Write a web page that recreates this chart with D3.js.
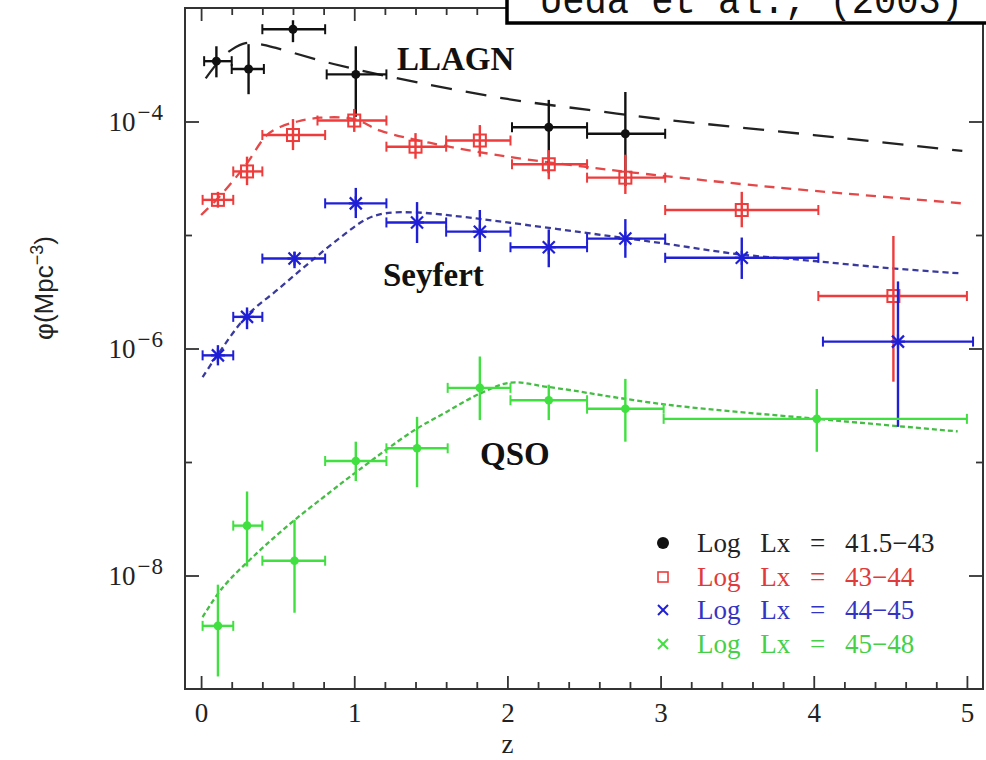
<!DOCTYPE html>
<html>
<head>
<meta charset="utf-8">
<script src="https://cdn.jsdelivr.net/npm/d3@7"></script>
<style>
  body { margin: 0; background: #fff; }
  svg { display: block; }
</style>
</head>
<body>
<svg id="chart" width="986" height="760"></svg>
<script>
// axis ticks
const zMajor = [0, 1, 2, 3, 4, 5];
const zMinor = [0.2, 0.4, 0.6, 0.8, 1.2, 1.4, 1.6, 1.8, 2.2, 2.4, 2.6, 2.8,
                3.2, 3.4, 3.6, 3.8, 4.2, 4.4, 4.6, 4.8];
const phiMajor = [1e-4, 1e-6, 1e-8];
const phiMinor = [1e-5, 1e-7];
const phiExp = ["\u22124", "\u22126", "\u22128"];
const zLabels = ["0", "1", "2", "3", "4", "5"];

// points: [z, zLow, zHigh, phi, phiTop, phiBottom]
const llagnPts = [
  [0.10, 0.02, 0.20, 3.4e-4, 4.6e-4, 2.45e-4],
  [0.31, 0.20, 0.41, 2.9e-4, 4.8e-4, 1.74e-4],
  [0.60, 0.40, 0.81, 6.5e-4, 7.8e-4, 5.0e-4],
  [1.01, 0.82, 1.21, 2.6e-4, 4.6e-4, 1.1e-4],
  [2.27, 2.03, 2.52, 8.9e-5, 1.55e-4, 3.5e-5],
  [2.77, 2.52, 3.03, 7.8e-5, 1.82e-4, 2.7e-5]
];
const sey43Pts = [
  [0.11, 0.01, 0.21, 2.04e-5, 2.4e-5, 1.74e-5],
  [0.30, 0.21, 0.40, 3.63e-5, 4.9e-5, 2.75e-5],
  [0.60, 0.40, 0.81, 7.6e-5, 1.05e-4, 5.6e-5],
  [1.00, 0.76, 1.21, 1.02e-4, 1.29e-4, 8.1e-5],
  [1.40, 1.21, 1.60, 6.0e-5, 7.9e-5, 4.7e-5],
  [1.82, 1.60, 2.02, 6.8e-5, 9.3e-5, 4.9e-5],
  [2.27, 2.03, 2.52, 4.2e-5, 5.6e-5, 3.1e-5],
  [2.77, 2.52, 3.03, 3.2e-5, 5.1e-5, 2.3e-5],
  [3.53, 3.03, 4.03, 1.66e-5, 2.4e-5, 1.17e-5],
  [4.52, 4.03, 5.00, 2.9e-6, 9.8e-6, 5.1e-7]
];
const sey44Pts = [
  [0.11, 0.01, 0.21, 8.7e-7, 1.07e-6, 7.1e-7],
  [0.30, 0.21, 0.40, 1.9e-6, 2.3e-6, 1.48e-6],
  [0.61, 0.40, 0.81, 6.2e-6, 7.1e-6, 5.1e-6],
  [1.01, 0.81, 1.21, 1.9e-5, 2.6e-5, 1.41e-5],
  [1.41, 1.21, 1.60, 1.29e-5, 1.95e-5, 8.5e-6],
  [1.82, 1.60, 2.02, 1.07e-5, 1.66e-5, 7.1e-6],
  [2.27, 2.02, 2.52, 7.8e-6, 1.12e-5, 5.2e-6],
  [2.77, 2.52, 3.03, 9.3e-6, 1.38e-5, 6.3e-6],
  [3.53, 3.03, 4.03, 6.3e-6, 9.5e-6, 4.1e-6],
  [4.55, 4.06, 5.04, 1.15e-6, 3.9e-6, 2.04e-7]
];
const qsoPts = [
  [0.11, 0.01, 0.21, 3.6e-9, 8.3e-9, 1.29e-9],
  [0.30, 0.21, 0.40, 2.75e-8, 5.5e-8, 1.2e-8],
  [0.61, 0.40, 0.81, 1.35e-8, 3.1e-8, 4.7e-9],
  [1.01, 0.81, 1.21, 1.02e-7, 1.51e-7, 6.8e-8],
  [1.41, 1.21, 1.61, 1.32e-7, 2.5e-7, 6.0e-8],
  [1.82, 1.61, 2.02, 4.5e-7, 8.5e-7, 2.34e-7],
  [2.27, 2.02, 2.52, 3.5e-7, 4.8e-7, 2.34e-7],
  [2.77, 2.52, 3.02, 2.95e-7, 5.4e-7, 1.51e-7],
  [4.02, 3.02, 5.00, 2.4e-7, 4.4e-7, 1.23e-7]
];

// model curves: [z, phi]
const llagnModel = [[0.03, 2.4e-4], [0.14, 3.7e-4], [0.2, 4.3e-4], [0.29, 4.9e-4], [0.38, 4.8e-4],
  [0.5, 4.4e-4], [0.83, 3.3e-4], [1.25, 2.45e-4], [2.0, 1.58e-4], [2.54, 1.26e-4],
  [3.0, 1.05e-4], [4.0, 7.6e-5], [4.97, 5.5e-5]];
const sey43Model = [[0.0, 1.5e-5], [0.1, 2.04e-5], [0.2, 2.9e-5], [0.3, 4.3e-5], [0.43, 7.6e-5],
  [0.52, 9.0e-5], [0.63, 1.0e-4], [0.78, 1.08e-4], [1.0, 1.05e-4], [1.17, 8.3e-5],
  [1.49, 6.5e-5], [2.0, 4.9e-5], [2.5, 4.0e-5], [2.82, 3.55e-5], [3.54, 2.8e-5],
  [4.0, 2.45e-5], [4.97, 1.9e-5]];
const sey44Model = [[0.01, 5.6e-7], [0.1, 8.5e-7], [0.3, 1.95e-6], [0.5, 3.3e-6], [0.7, 5.6e-6],
  [0.9, 9.3e-6], [1.08, 1.38e-5], [1.2, 1.55e-5], [1.4, 1.58e-5], [1.7, 1.45e-5],
  [2.0, 1.29e-5], [2.5, 1.05e-5], [3.0, 8.5e-6], [3.5, 6.8e-6], [4.0, 5.9e-6],
  [4.5, 5.1e-6], [4.95, 4.6e-6]];
const qsoModel = [[0.01, 4.3e-9], [0.14, 7.8e-9], [0.37, 1.6e-8], [0.6, 3.0e-8], [0.84, 5.4e-8],
  [1.02, 8.3e-8], [1.38, 1.86e-7], [1.6, 2.75e-7], [1.82, 4.0e-7], [2.02, 5.0e-7],
  [2.26, 4.6e-7], [3.04, 3.2e-7], [4.02, 2.4e-7], [4.94, 1.86e-7]];

const legendLabels = ["Log Lx = 41.5\u221243", "Log Lx = 43\u221244",
                      "Log Lx = 44\u221245", "Log Lx = 45\u221248"];
const groupLabels = ["LLAGN", "Seyfert", "QSO"];

var series = [
  { pts: llagnPts, model: llagnModel, color: "#111", line: "#222", dash: "21,14", marker: "dot" },
  { pts: sey43Pts, model: sey43Model, color: "#ee3b3b", line: "#e54848", dash: "10,7", marker: "square" },
  { pts: sey44Pts, model: sey44Model, color: "#1f1fd6", line: "#3a3a9e", dash: "6,4", marker: "star" },
  { pts: qsoPts, model: qsoModel, color: "#3fe03f", line: "#45bd45", dash: "5,3", marker: "cross" }
];

var padL = 185, padR = 983, padT = 8, padB = 689;
var svg = d3.select("#chart");

var x = d3.scaleLinear().domain([-0.105, 5.105]).range([padL, padR]);
var y = d3.scaleLog().domain([1e-9, 1e-3]).range([padB, padT]);

svg.append("clipPath").attr("id", "clip")
  .append("rect").attr("x", padL).attr("y", padT).attr("width", padR - padL).attr("height", padB - padT);
var plot = svg.append("g").attr("clip-path", "url(#clip)");

// model curves
var line = d3.line().x(d => x(d[0])).y(d => y(d[1])).curve(d3.curveCatmullRom.alpha(0.5));
series.forEach(s => {
  plot.append("path")
    .attr("d", line(s.model))
    .attr("fill", "none")
    .attr("stroke", s.line)
    .attr("stroke-width", 2.3)
    .attr("stroke-dasharray", s.dash);
});

// markers
function drawMarker(g, kind, color, cx, cy) {
  if (kind == "dot") {
    g.append("circle").attr("cx", cx).attr("cy", cy).attr("r", 4.5).attr("fill", color);
  } else if (kind == "square") {
    g.append("rect").attr("x", cx - 6).attr("y", cy - 6).attr("width", 12).attr("height", 12)
      .attr("fill", "none").attr("stroke", color).attr("stroke-width", 2);
  } else if (kind == "star") {
    var r = 6;
    [[-r, -r, r, r], [-r, r, r, -r], [0, -r - 1, 0, r + 1], [-r - 1, 0, r + 1, 0]].forEach(l => {
      g.append("line").attr("x1", cx + l[0]).attr("y1", cy + l[1]).attr("x2", cx + l[2]).attr("y2", cy + l[3])
        .attr("stroke", color).attr("stroke-width", 2.2);
    });
  } else {
    g.append("circle").attr("cx", cx).attr("cy", cy).attr("r", 4.3).attr("fill", color);
  }
}

// error bars
series.forEach(s => {
  var g = plot.append("g");
  s.pts.forEach(p => {
    var cy = y(p[3]), cx = x(p[0]);
    g.append("line").attr("x1", x(p[1])).attr("x2", x(p[2])).attr("y1", cy).attr("y2", cy)
      .attr("stroke", s.color).attr("stroke-width", 2.4);
    [p[1], p[2]].forEach(v => {
      g.append("line").attr("x1", x(v)).attr("x2", x(v)).attr("y1", cy - 5).attr("y2", cy + 5)
        .attr("stroke", s.color).attr("stroke-width", 2);
    });
    g.append("line").attr("x1", cx).attr("x2", cx).attr("y1", y(p[4])).attr("y2", y(p[5]))
      .attr("stroke", s.color).attr("stroke-width", 2.4);
    drawMarker(g, s.marker, s.color, cx, cy);
  });
});

// axes, ticks pointing inward
function styleAxis(g) {
  g.select(".domain").remove();
  g.selectAll(".tick line").attr("stroke", "#333").attr("stroke-width", 1.8);
  g.selectAll("text").attr("font-family", "Liberation Serif, serif").attr("font-size", 27).attr("fill", "#222");
}

svg.append("g").attr("transform", `translate(0,${padB})`)
  .call(d3.axisBottom(x).tickValues(zMajor).tickSizeInner(-13).tickSizeOuter(0).tickPadding(14)
    .tickFormat((d, i) => zLabels[i]))
  .call(styleAxis);
svg.append("g").attr("transform", `translate(0,${padB})`)
  .call(d3.axisBottom(x).tickValues(zMinor).tickSizeInner(-7).tickSizeOuter(0).tickFormat(""))
  .call(styleAxis);
svg.append("g").attr("transform", `translate(0,${padT})`)
  .call(d3.axisTop(x).tickValues(zMajor).tickSizeInner(-13).tickSizeOuter(0).tickFormat(""))
  .call(styleAxis);
svg.append("g").attr("transform", `translate(0,${padT})`)
  .call(d3.axisTop(x).tickValues(zMinor).tickSizeInner(-7).tickSizeOuter(0).tickFormat(""))
  .call(styleAxis);
svg.append("g").attr("transform", `translate(${padL},0)`)
  .call(d3.axisLeft(y).tickValues(phiMajor).tickSizeInner(-14).tickSizeOuter(0).tickFormat(""))
  .call(styleAxis);
svg.append("g").attr("transform", `translate(${padL},0)`)
  .call(d3.axisLeft(y).tickValues(phiMinor).tickSizeInner(-7).tickSizeOuter(0).tickFormat(""))
  .call(styleAxis);
svg.append("g").attr("transform", `translate(${padR},0)`)
  .call(d3.axisRight(y).tickValues(phiMajor).tickSizeInner(-14).tickSizeOuter(0).tickFormat(""))
  .call(styleAxis);
svg.append("g").attr("transform", `translate(${padR},0)`)
  .call(d3.axisRight(y).tickValues(phiMinor).tickSizeInner(-7).tickSizeOuter(0).tickFormat(""))
  .call(styleAxis);

// y tick labels with exponent
phiMajor.forEach((v, i) => {
  var t = svg.append("text")
    .attr("x", 164).attr("y", y(v) + 9)
    .attr("text-anchor", "end")
    .attr("font-family", "Liberation Serif, serif")
    .attr("fill", "#222");
  t.append("tspan").attr("font-size", 27).text("10");
  t.append("tspan").attr("font-size", 23).attr("dy", -11).attr("dx", 2).attr("letter-spacing", 1).text(phiExp[i]);
});

// frame
svg.append("rect").attr("x", padL).attr("y", padT).attr("width", padR - padL).attr("height", padB - padT)
  .attr("fill", "none").attr("stroke", "#333").attr("stroke-width", 2);

// axis titles
svg.append("text").attr("x", x(2)).attr("y", 753).attr("text-anchor", "middle")
  .attr("font-family", "Liberation Serif, serif").attr("font-size", 27).attr("fill", "#222").text("z");
var yt = svg.append("text").attr("transform", "translate(53,288) rotate(-90)").attr("text-anchor", "middle")
  .attr("font-family", "Liberation Sans, sans-serif").attr("font-size", 26).attr("fill", "#222");
yt.append("tspan").text("\u03c6(Mpc");
yt.append("tspan").attr("font-size", 18).attr("dy", -10).text("\u22123");
yt.append("tspan").attr("dy", 10).text(")");

// group labels
var gl = [[397, 70], [383, 286], [480, 465]];
groupLabels.forEach((t, i) => {
  svg.append("text").attr("x", gl[i][0]).attr("y", gl[i][1])
    .attr("font-family", "Liberation Serif, serif").attr("font-weight", "bold")
    .attr("font-size", 33).attr("fill", "#111").text(t);
});

// legend
var legendY = [543, 577, 610, 644];
var legendText = ["#222", "#e03a3a", "#3434c4", "#45d045"];
series.forEach((s, i) => {
  var lg = svg.append("g");
  var cy = legendY[i];
  if (s.marker == "dot") {
    lg.append("circle").attr("cx", 663).attr("cy", cy).attr("r", 6).attr("fill", "#111");
  } else if (s.marker == "square") {
    lg.append("rect").attr("x", 658).attr("y", cy - 5).attr("width", 10).attr("height", 10)
      .attr("fill", "none").attr("stroke", s.color).attr("stroke-width", 1.6);
  } else {
    [[-5, -5, 5, 5], [-5, 5, 5, -5]].forEach(l => {
      lg.append("line").attr("x1", 663 + l[0]).attr("y1", cy + l[1]).attr("x2", 663 + l[2]).attr("y2", cy + l[3])
        .attr("stroke", s.color).attr("stroke-width", 2);
    });
  }
  lg.append("text").attr("x", 697).attr("y", cy + 9)
    .attr("font-family", "Liberation Serif, serif").attr("font-size", 27)
    .attr("word-spacing", 13)
    .attr("fill", legendText[i]).text(legendLabels[i]);
});

// citation box over the top right corner
svg.append("rect").attr("x", 507).attr("y", -10).attr("width", 500).attr("height", 33)
  .attr("fill", "#fff").attr("stroke", "#000").attr("stroke-width", 3.5);
svg.append("text").attr("x", 540).attr("y", 13)
  .attr("font-family", "Liberation Mono, monospace").attr("font-size", 40)
  .attr("textLength", 423).attr("lengthAdjust", "spacingAndGlyphs")
  .attr("fill", "#111").text("Ueda et al., (2003)");
</script>
</body>
</html>
